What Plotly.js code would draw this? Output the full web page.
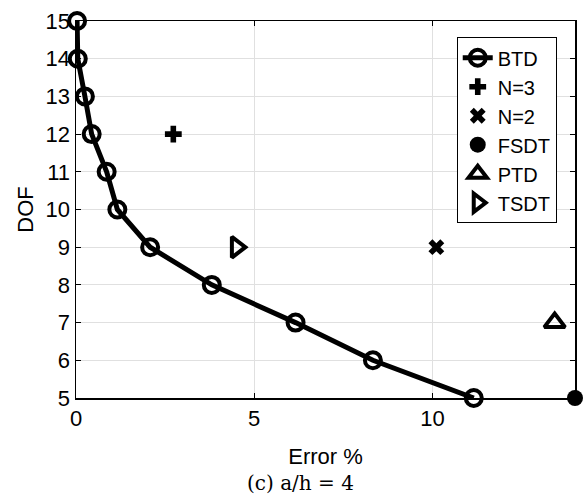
<!DOCTYPE html>
<html>
<head>
<meta charset="utf-8">
<script src="https://cdn.plot.ly/plotly-3.0.1.min.js"></script>
<style>html,body{margin:0;padding:0;background:#fff;}#chart{width:588px;height:497px;}</style>
</head>
<body>
<div id="chart"></div>
<script>
// BTD curve: error % vs DOF
const btdError = [0.03, 0.05, 0.25, 0.44, 0.86, 1.16, 2.08, 3.81, 6.16, 8.33, 11.16];
const btdDOF = [15, 14, 13, 12, 11, 10, 9, 8, 7, 6, 5];
// single-point theories
const n3Error = [2.73], n3DOF = [12];
const n2Error = [10.11], n2DOF = [9];
const fsdtError = [14.0], fsdtDOF = [5];
const ptdError = [13.43], ptdDOF = [7];
const tsdtError = [4.5], tsdtDOF = [9];
const xTicks = [0, 5, 10];
const yTicks = [5, 6, 7, 8, 9, 10, 11, 12, 13, 14, 15];
const captionText = '(c) a/h\u00A0=\u00A04';

const F = 'Liberation Sans, Arial, Helvetica, sans-serif';
const traces = [
  {x: btdError, y: btdDOF, name: 'BTD', mode: 'lines+markers',
   line: {color: '#000', width: 5},
   marker: {symbol: 'circle-open', size: 16, color: '#000', line: {width: 4, color: '#000'}}},
  {x: n3Error, y: n3DOF, name: 'N=3', mode: 'markers',
   marker: {symbol: 'cross', size: 14, color: '#000'}},
  {x: n2Error, y: n2DOF, name: 'N=2', mode: 'markers',
   marker: {symbol: 'x', size: 14, color: '#000'}},
  {x: fsdtError, y: fsdtDOF, name: 'FSDT', mode: 'markers',
   marker: {symbol: 'circle', size: 16, color: '#000'}},
  {x: ptdError, y: ptdDOF, name: 'PTD', mode: 'markers',
   marker: {symbol: 'triangle-up-open', size: 18, color: '#000', line: {width: 4, color: '#000'}}},
  {x: tsdtError, y: tsdtDOF, name: 'TSDT', mode: 'markers',
   marker: {symbol: 'triangle-right-open', size: 18, color: '#000', line: {width: 4, color: '#000'}}}
];
traces.forEach(t => t.cliponaxis = false);

const layout = {
  width: 588, height: 497,
  margin: {l: 76, r: 13, t: 21, b: 99},
  paper_bgcolor: '#fff', plot_bgcolor: '#fff',
  font: {family: F, color: '#000', size: 22},
  showlegend: true,
  legend: {x: 0.763, y: 0.957, xanchor: 'left', yanchor: 'top',
           bgcolor: '#fff', bordercolor: '#000', borderwidth: 1,
           font: {family: F, size: 20, color: '#000'}, tracegroupgap: 0},
  xaxis: {range: [0, 14], tickvals: xTicks, ticktext: xTicks.map(String),
          showgrid: true, gridcolor: '#e0e0e0', gridwidth: 1, zeroline: false,
          showline: true, linecolor: '#000', linewidth: 1.5, mirror: 'ticks',
          ticks: 'inside', ticklen: 5, tickcolor: '#000', tickwidth: 1,
          tickfont: {family: F, size: 22, color: '#000'},
          title: {text: 'Error %', font: {family: F, size: 22, color: '#000'}, standoff: 18}},
  yaxis: {range: [5, 15], tickvals: yTicks, ticktext: yTicks.map(String),
          showgrid: true, gridcolor: '#e0e0e0', gridwidth: 1, zeroline: false,
          showline: true, linecolor: '#000', linewidth: 1.5, mirror: 'ticks',
          ticks: 'inside', ticklen: 5, tickcolor: '#000', tickwidth: 1,
          tickfont: {family: F, size: 22, color: '#000'},
          title: {text: 'DOF', font: {family: F, size: 22, color: '#000'}, standoff: 6}},
  annotations: [{text: captionText, xref: 'paper', yref: 'paper',
                 x: (300 - 76) / 499, y: -0.226, xanchor: 'center', yanchor: 'middle',
                 showarrow: false, font: {family: 'DejaVu Serif, Liberation Serif, serif', size: 20, color: '#000'}}]
};
Plotly.newPlot('chart', traces, layout, {displayModeBar: false, staticPlot: true});
</script>
</body>
</html>
